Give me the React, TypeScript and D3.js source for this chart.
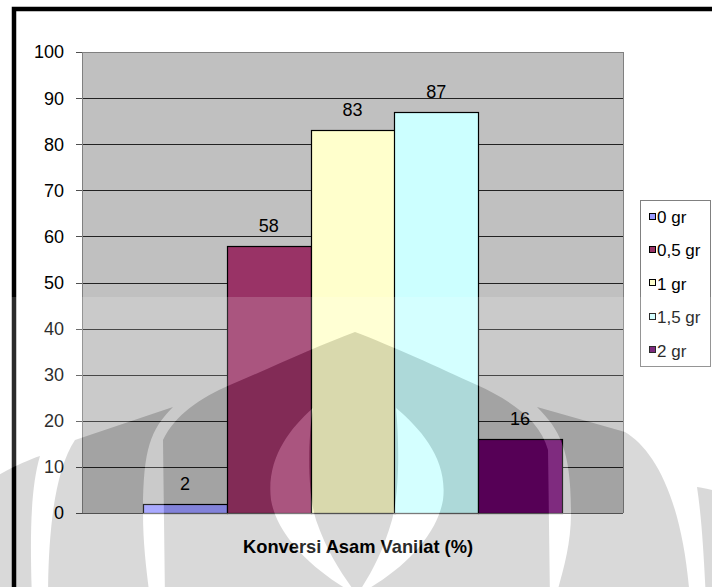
import React from 'react';
import * as d3 from 'd3';

const categories = ['0 gr', '0,5 gr', '1 gr', '1,5 gr', '2 gr'];
const values = [2, 58, 83, 87, 16];
const colors = ['#9999FF', '#993366', '#FFFFCC', '#CCFFFF', '#660066'];
const yTicks = [0, 10, 20, 30, 40, 50, 60, 70, 80, 90, 100];
const axisTitle = 'Konversi Asam Vanilat (%)';
const groupName = ['Konversi Asam Vanilat'];

// watermark (decorative, non-data) shapes
const wmShapes = [
  // central dome
  'M 165 600 L 163 440 C 175 415, 200 398, 230 385 C 270 368, 320 345, 355 332 C 390 345, 440 368, 477 385 C 510 400, 540 420, 548 450 L 550 600 Z',
  // left wing
  'M 48 600 C 48 530, 55 470, 75 440 L 173 407 C 150 430, 143 450, 143 513 C 143 550, 148 580, 150 600 Z',
  // right wing
  'M 555 600 C 560 580, 571 550, 571 513 C 571 450, 560 430, 537 407 L 625 432 C 655 450, 683 500, 690 600 Z',
  // outer ring left
  'M -10 480 C 10 468, 28 460, 40 456 C 30 490, 30 540, 32 600 L -10 600 Z',
  // outer ring right
  'M 722 492 C 712 490, 704 488, 697 487 C 702 520, 704 560, 706 600 L 722 600 Z',
];
const wmGaps = [
  'M 313 408 C 308 440, 307 490, 316 520 C 328 555, 343 575, 357 595 C 320 575, 278 540, 271 500 C 266 460, 288 430, 313 408 Z',
  'M 396 408 C 399 440, 400 490, 392 520 C 382 555, 370 575, 357 595 C 396 575, 436 540, 443 500 C 448 460, 422 430, 396 408 Z',
];

export default function App() {
  const W = 712, H = 587;
  const plotL = 82, plotR = 623, plotT = 52, plotB = 513;
  const y = d3.scaleLinear().domain([0, 100]).range([plotB, plotT]);
  const group = d3.scaleBand().domain(groupName).range([plotL, plotR]).paddingOuter(0.1456).paddingInner(0);
  const g0 = group(groupName[0]) as number;
  const x = d3.scaleBand().domain(categories).range([g0, g0 + group.bandwidth()]);
  const font = '"Liberation Sans", Arial, sans-serif';
  const py = (v: number) => Math.round(y(v)) + 0.5;

  return (
    <svg width={W} height={H} style={{ position: 'absolute', left: 0, top: 0, display: 'block' }} fontFamily={font}>
      <defs>
        <mask id="darkMask" maskUnits="userSpaceOnUse" x={0} y={0} width={W} height={H}>
          <rect x={0} y={0} width={W} height={H} fill="black" />
          {wmShapes.map((d, i) => <path key={i} d={d} fill="white" />)}
          {wmGaps.map((d, i) => <path key={i} d={d} fill="black" />)}
        </mask>
        <mask id="lightMask" maskUnits="userSpaceOnUse" x={0} y={0} width={W} height={H}>
          <rect x={0} y={297} width={W} height={H - 297} fill="white" />
          {wmShapes.map((d, i) => <path key={i} d={d} fill="black" />)}
          {wmGaps.map((d, i) => <path key={i} d={d} fill="white" />)}
        </mask>
      </defs>
      <rect x={0} y={0} width={W} height={H} fill="#ffffff" />
      {/* chart frame */}
      <rect x={14} y={9} width={W + 20} height={H + 20} fill="#ffffff" stroke="#000" strokeWidth={4.5} />
      {/* plot area */}
      <rect x={plotL} y={plotT} width={plotR - plotL} height={plotB - plotT} fill="#C0C0C0" />
      {yTicks.filter(t => t > 0 && t < 100).map(t => (
        <line key={t} x1={plotL} x2={plotR} y1={py(t)} y2={py(t)} stroke="#222" strokeWidth={1} />
      ))}
      <line x1={plotL} x2={plotR} y1={py(100)} y2={py(100)} stroke="#808080" />
      <line x1={plotR + 0.5} x2={plotR + 0.5} y1={plotT} y2={plotB} stroke="#808080" />
      {/* bars */}
      {categories.map((c, i) => {
        const bx = x(c) as number;
        return (
          <rect key={c} x={Math.round(bx) + 0.5} y={Math.round(y(values[i])) + 0.5}
            width={Math.round(x.bandwidth())} height={Math.round(plotB - y(values[i]))}
            fill={colors[i]} stroke="#000" strokeWidth={1.2} />
        );
      })}
      {/* data labels */}
      {categories.map((c, i) => (
        <text key={c} x={(x(c) as number) + x.bandwidth() / 2} y={y(values[i]) - 14}
          textAnchor="middle" fontSize={18} fill="#000">{values[i]}</text>
      ))}
      {/* axes */}
      <line x1={plotL + 0.5} x2={plotL + 0.5} y1={plotT} y2={plotB} stroke="#808080" />
      <line x1={plotL} x2={plotR} y1={plotB + 0.5} y2={plotB + 0.5} stroke="#606060" />
      {yTicks.map(t => (
        <g key={t}>
          <line x1={76} x2={plotL} y1={py(t)} y2={py(t)} stroke="#505050" />
          <text x={64} y={y(t)} dy="0.36em" textAnchor="end" fontSize={18} fill="#000">{t}</text>
        </g>
      ))}
      {/* x axis title */}
      <text x={358} y={553} textAnchor="middle" fontSize={19} fontWeight="bold" fill="#000"
        textLength={230} lengthAdjust="spacingAndGlyphs">{axisTitle}</text>
      {/* legend */}
      <rect x={640.5} y={200.5} width={70} height={166} fill="#ffffff" stroke="#808080" />
      {categories.map((c, i) => {
        const cy = 216 + i * 33.4;
        return (
          <g key={c}>
            <rect x={649.5} y={Math.round(cy - 3.5) + 0.5} width={6} height={6} fill={colors[i]} stroke="#000" />
            <text x={657} y={cy + 7} fontSize={17} fill="#000">{c}</text>
          </g>
        );
      })}
      {/* watermark overlay */}
      <rect x={0} y={0} width={W} height={H} fill="#ffffff" fillOpacity={0.17} mask="url(#lightMask)" />
      <rect x={0} y={0} width={W} height={H} fill="#000000" fillOpacity={0.15} mask="url(#darkMask)" />
    </svg>
  );
}
